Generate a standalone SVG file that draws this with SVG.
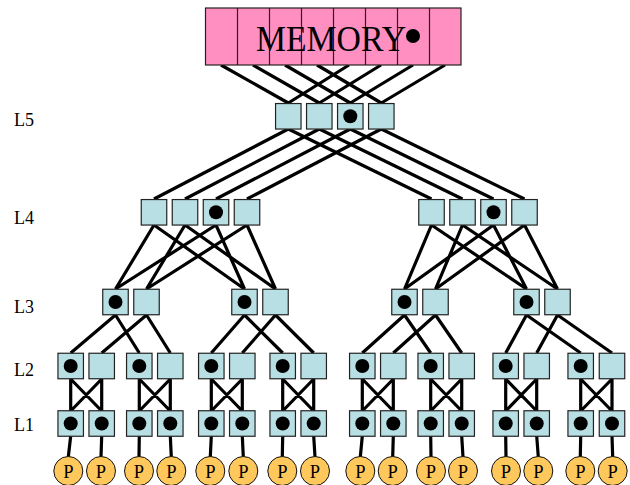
<svg xmlns="http://www.w3.org/2000/svg" width="630" height="485" viewBox="0 0 630 485">
<style>
.c{stroke:#000;stroke-width:3.2;fill:none;stroke-linecap:butt}
.b{fill:#b8dfe3;stroke:#222;stroke-width:1.2}
.m{fill:#ff8fc0;stroke:#222;stroke-width:1.2}
.d{fill:#000}
.p{fill:#ffc85c;stroke:#111;stroke-width:1}
text{font-family:"Liberation Serif","Times New Roman",serif;fill:#000}
.l{font-size:18px}
.t{font-size:18.5px;text-anchor:middle}
</style>
<defs>
<rect id="box" class="b" x="-12.75" y="-12.75" width="25.5" height="25.5"/>
<circle id="dot" class="d" r="7"/>
<circle id="proc" class="p" r="14.5"/>
</defs>
<g id="connectors" class="c">
<path d="M221 65L288.3 103M253 65L319.3 103M285 65L350.3 103M317 65L381.3 103M349 65L288.3 103M381 65L319.3 103M413 65L350.3 103M445 65L381.3 103"/>
<path d="M288.3 129L154 199M319.3 129L185 199M350.3 129L216 199M381.3 129L247 199M288.3 129L431.5 199M319.3 129L462.5 199M350.3 129L493.5 199M381.3 129L524.5 199"/>
<path d="M154 225L115.5 289M154 225L244.5 289M185 225L146.5 289M185 225L275.5 289M216 225L115.5 289M216 225L244.5 289M247 225L146.5 289M247 225L275.5 289"/>
<path d="M431.5 225L404.5 289M431.5 225L526.5 289M462.5 225L435.5 289M462.5 225L557.5 289M493.5 225L404.5 289M493.5 225L526.5 289M524.5 225L435.5 289M524.5 225L557.5 289"/>
<path d="M115.5 315L70.7 353M115.5 315L139.3 353M146.5 315L101.7 353M146.5 315L170.3 353M244.5 315L211.3 353M244.5 315L282.7 353M275.5 315L242.3 353M275.5 315L313.7 353"/>
<path d="M404.5 315L362.3 353M404.5 315L430.7 353M435.5 315L393.3 353M435.5 315L461.7 353M526.5 315L505.7 353M526.5 315L580.7 353M557.5 315L536.7 353M557.5 315L612 353"/>
<path d="M70.7 379V411M101.7 379V411M70.7 379L101.7 411M101.7 379L70.7 411M139.3 379V411M170.3 379V411M139.3 379L170.3 411M170.3 379L139.3 411M211.3 379V411M242.3 379V411M211.3 379L242.3 411M242.3 379L211.3 411M282.7 379V411M313.7 379V411M282.7 379L313.7 411M313.7 379L282.7 411"/>
<path d="M362.3 379V411M393.3 379V411M362.3 379L393.3 411M393.3 379L362.3 411M430.7 379V411M461.7 379V411M430.7 379L461.7 411M461.7 379L430.7 411M505.7 379V411M536.7 379V411M505.7 379L536.7 411M536.7 379L505.7 411M580.7 379V411M612 379V411M580.7 379L612 411M612 379L580.7 411"/>
<path d="M70.7 436L68.3 457M101.7 436L101 457M139.3 436L139 457M170.3 436L171.3 457M211.3 436L210.3 457M242.3 436L243.3 457M282.7 436L282.3 457M313.7 436L315 457M362.3 436L360.3 457M393.3 436L392.7 457M430.7 436L431 457M461.7 436L463 457M505.7 436L506 457M536.7 436L538.3 457M580.7 436L580.3 457M612 436L612.7 457"/>
</g>
<g id="memory">
<rect class="m" x="205.5" y="8" width="255.5" height="57"/>
<path d="M237.5 8V65M269.5 8V65M301.5 8V65M333.5 8V65M365.5 8V65M397.5 8V65M429.5 8V65" stroke="#222" stroke-width="1.2" fill="none"/>
<text x="256" y="51" font-size="35" textLength="150" lengthAdjust="spacingAndGlyphs">MEMORY</text>
<use href="#dot" x="413" y="36"/>
</g>
<g id="labels" class="l">
<text x="14" y="126">L5</text><text x="14" y="224">L4</text><text x="14" y="313">L3</text><text x="14" y="376">L2</text><text x="14" y="431">L1</text>
</g>
<g id="l5">
<use href="#box" x="288.3" y="116.3"/><use href="#box" x="319.3" y="116.3"/><use href="#box" x="350.3" y="116.3"/><use href="#dot" x="350.3" y="116.3"/><use href="#box" x="381.3" y="116.3"/>
</g>
<g id="l4-left">
<use href="#box" x="154" y="212.3"/><use href="#box" x="185" y="212.3"/><use href="#box" x="216" y="212.3"/><use href="#dot" x="216" y="212.3"/><use href="#box" x="247" y="212.3"/>
</g>
<g id="l4-right">
<use href="#box" x="431.5" y="212.3"/><use href="#box" x="462.5" y="212.3"/><use href="#box" x="493.5" y="212.3"/><use href="#dot" x="493.5" y="212.3"/><use href="#box" x="524.5" y="212.3"/>
</g>
<g id="l3">
<use href="#box" x="115.5" y="302"/><use href="#dot" x="115.5" y="302"/><use href="#box" x="146.5" y="302"/>
<use href="#box" x="244.5" y="302"/><use href="#dot" x="244.5" y="302"/><use href="#box" x="275.5" y="302"/>
<use href="#box" x="404.5" y="302"/><use href="#dot" x="404.5" y="302"/><use href="#box" x="435.5" y="302"/>
<use href="#box" x="526.5" y="302"/><use href="#dot" x="526.5" y="302"/><use href="#box" x="557.5" y="302"/>
</g>
<g id="l2">
<use href="#box" x="70.7" y="366"/><use href="#dot" x="70.7" y="366"/><use href="#box" x="101.7" y="366"/>
<use href="#box" x="139.3" y="366"/><use href="#dot" x="139.3" y="366"/><use href="#box" x="170.3" y="366"/>
<use href="#box" x="211.3" y="366"/><use href="#dot" x="211.3" y="366"/><use href="#box" x="242.3" y="366"/>
<use href="#box" x="282.7" y="366"/><use href="#dot" x="282.7" y="366"/><use href="#box" x="313.7" y="366"/>
<use href="#box" x="362.3" y="366"/><use href="#dot" x="362.3" y="366"/><use href="#box" x="393.3" y="366"/>
<use href="#box" x="430.7" y="366"/><use href="#dot" x="430.7" y="366"/><use href="#box" x="461.7" y="366"/>
<use href="#box" x="505.7" y="366"/><use href="#dot" x="505.7" y="366"/><use href="#box" x="536.7" y="366"/>
<use href="#box" x="580.7" y="366"/><use href="#dot" x="580.7" y="366"/><use href="#box" x="612" y="366"/>
</g>
<g id="l1">
<use href="#box" x="70.7" y="423.5"/><use href="#dot" x="70.7" y="423.5"/><use href="#box" x="101.7" y="423.5"/><use href="#dot" x="101.7" y="423.5"/>
<use href="#box" x="139.3" y="423.5"/><use href="#dot" x="139.3" y="423.5"/><use href="#box" x="170.3" y="423.5"/><use href="#dot" x="170.3" y="423.5"/>
<use href="#box" x="211.3" y="423.5"/><use href="#dot" x="211.3" y="423.5"/><use href="#box" x="242.3" y="423.5"/><use href="#dot" x="242.3" y="423.5"/>
<use href="#box" x="282.7" y="423.5"/><use href="#dot" x="282.7" y="423.5"/><use href="#box" x="313.7" y="423.5"/><use href="#dot" x="313.7" y="423.5"/>
<use href="#box" x="362.3" y="423.5"/><use href="#dot" x="362.3" y="423.5"/><use href="#box" x="393.3" y="423.5"/><use href="#dot" x="393.3" y="423.5"/>
<use href="#box" x="430.7" y="423.5"/><use href="#dot" x="430.7" y="423.5"/><use href="#box" x="461.7" y="423.5"/><use href="#dot" x="461.7" y="423.5"/>
<use href="#box" x="505.7" y="423.5"/><use href="#dot" x="505.7" y="423.5"/><use href="#box" x="536.7" y="423.5"/><use href="#dot" x="536.7" y="423.5"/>
<use href="#box" x="580.7" y="423.5"/><use href="#dot" x="580.7" y="423.5"/><use href="#box" x="612" y="423.5"/><use href="#dot" x="612" y="423.5"/>
</g>
<g id="processors">
<g><use href="#proc" x="68.3" y="471"/><text class="t" x="68.3" y="477.5">P</text></g>
<g><use href="#proc" x="101" y="471"/><text class="t" x="101" y="477.5">P</text></g>
<g><use href="#proc" x="139" y="471"/><text class="t" x="139" y="477.5">P</text></g>
<g><use href="#proc" x="171.3" y="471"/><text class="t" x="171.3" y="477.5">P</text></g>
<g><use href="#proc" x="210.3" y="471"/><text class="t" x="210.3" y="477.5">P</text></g>
<g><use href="#proc" x="243.3" y="471"/><text class="t" x="243.3" y="477.5">P</text></g>
<g><use href="#proc" x="282.3" y="471"/><text class="t" x="282.3" y="477.5">P</text></g>
<g><use href="#proc" x="315" y="471"/><text class="t" x="315" y="477.5">P</text></g>
<g><use href="#proc" x="360.3" y="471"/><text class="t" x="360.3" y="477.5">P</text></g>
<g><use href="#proc" x="392.7" y="471"/><text class="t" x="392.7" y="477.5">P</text></g>
<g><use href="#proc" x="431" y="471"/><text class="t" x="431" y="477.5">P</text></g>
<g><use href="#proc" x="463" y="471"/><text class="t" x="463" y="477.5">P</text></g>
<g><use href="#proc" x="506" y="471"/><text class="t" x="506" y="477.5">P</text></g>
<g><use href="#proc" x="538.3" y="471"/><text class="t" x="538.3" y="477.5">P</text></g>
<g><use href="#proc" x="580.3" y="471"/><text class="t" x="580.3" y="477.5">P</text></g>
<g><use href="#proc" x="612.7" y="471"/><text class="t" x="612.7" y="477.5">P</text></g>
</g>
</svg>
